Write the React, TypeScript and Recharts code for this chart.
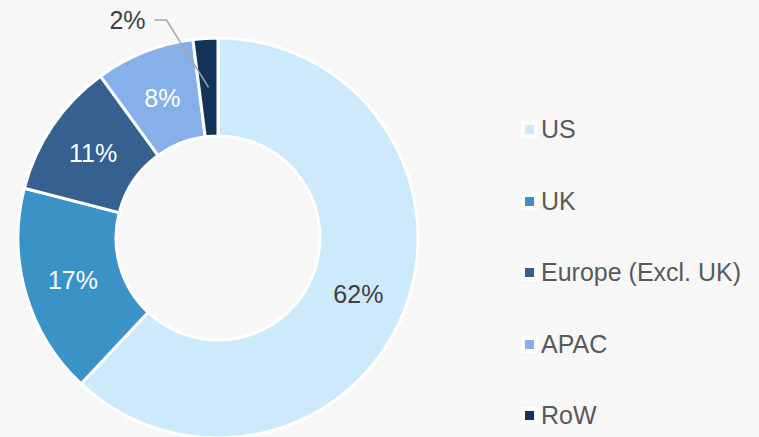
import { PieChart, Pie, Cell } from "recharts";

const regions = ["US", "UK", "Europe (Excl. UK)", "APAC", "RoW"];
const shares = [62, 17, 11, 8, 2];
const colors = ["#cdeafc", "#3a92c6", "#35608f", "#86b0ea", "#13335b"];

const data = regions.map((name, i) => ({ name, value: shares[i] }));

const RAD = Math.PI / 180;

function renderLabel(props: any) {
  const { cx, cy, midAngle, innerRadius, outerRadius, value, index } = props;
  const r = (innerRadius + outerRadius) / 2;
  const x = cx + r * Math.cos(-midAngle * RAD);
  const y = cy + r * Math.sin(-midAngle * RAD);
  if (value < 5) {
    // small slice: label outside with an elbow leader line
    const ex = x - 42;
    const ey = cy - outerRadius - 18;
    return (
      <g>
        <polyline
          points={`${x},${y} ${ex},${ey} ${ex - 12},${ey}`}
          fill="none"
          stroke="#a6a6a6"
          strokeWidth={1.5}
        />
        <text
          x={ex - 21}
          y={ey}
          textAnchor="end"
          dominantBaseline="central"
          fill="#404040"
          fontSize={25}
        >
          {value}%
        </text>
      </g>
    );
  }
  return (
    <text
      x={x}
      y={y}
      textAnchor="middle"
      dominantBaseline="central"
      fill={index === 0 ? "#404040" : "#ffffff"}
      fontSize={25}
    >
      {value}%
    </text>
  );
}

function LegendBox() {
  return (
    <div style={{ position: "absolute", left: 521, top: 94 }}>
      {regions.map((name, i) => (
        <div
          key={name}
          style={{ display: "flex", alignItems: "center", height: 71.5 }}
        >
          <span
            style={{
              width: 9,
              height: 9,
              background: colors[i],
              border: "4px solid #ffffff",
              marginRight: 3,
            }}
          />
          <span style={{ fontSize: 25, color: "#595959" }}>{name}</span>
        </div>
      ))}
    </div>
  );
}

export default function App() {
  return (
    <div
      style={{
        position: "absolute",
        left: 0,
        top: 0,
        width: 759,
        height: 437,
        background: "#f7f7f7",
        fontFamily: "'Liberation Sans', Arial, sans-serif",
      }}
    >
      <PieChart
        width={759}
        height={437}
        margin={{ top: 0, right: 0, bottom: 0, left: 0 }}
      >
        <Pie
          data={data}
          dataKey="value"
          nameKey="name"
          cx={218}
          cy={238}
          outerRadius={200}
          innerRadius={102}
          startAngle={90}
          endAngle={-270}
          stroke="#ffffff"
          strokeWidth={3}
          label={renderLabel}
          labelLine={false}
          isAnimationActive={false}
        >
          {data.map((d, i) => (
            <Cell key={d.name} fill={colors[i]} />
          ))}
        </Pie>
      </PieChart>
      <LegendBox />
    </div>
  );
}
